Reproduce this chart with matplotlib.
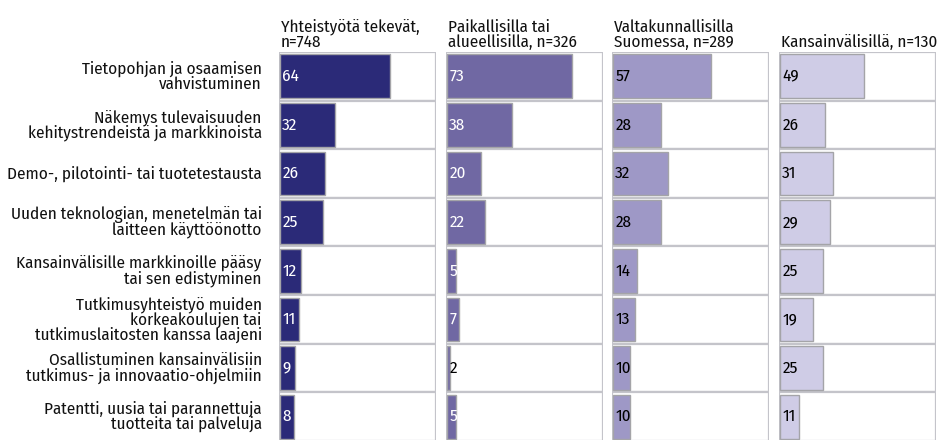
import matplotlib
matplotlib.use("Agg")
import matplotlib.pyplot as plt

plt.rcParams['font.family'] = ['Fira Sans Condensed', 'DejaVu Sans']

categories = [
    "Tietopohjan ja osaamisen\nvahvistuminen",
    "Näkemys tulevaisuuden\nkehitystrendeistä ja markkinoista",
    "Demo-, pilotointi- tai tuotetestausta",
    "Uuden teknologian, menetelmän tai\nlaitteen käyttöönotto",
    "Kansainvälisille markkinoille pääsy\ntai sen edistyminen",
    "Tutkimusyhteistyö muiden\nkorkeakoulujen tai\ntutkimuslaitosten kanssa laajeni",
    "Osallistuminen kansainvälisiin\ntutkimus- ja innovaatio-ohjelmiin",
    "Patentti, uusia tai parannettuja\ntuotteita tai palveluja",
]
titles = [
    "Yhteistyötä tekevät,\nn=748",
    "Paikallisilla tai\nalueellisilla, n=326",
    "Valtakunnallisilla\nSuomessa, n=289",
    "Kansainvälisillä, n=130",
]
yhteistyo = [64, 32, 26, 25, 12, 11, 9, 8]
paikalliset = [73, 38, 20, 22, 5, 7, 2, 5]
valtakunnalliset = [57, 28, 32, 28, 14, 13, 10, 10]
kansainvaliset = [49, 26, 31, 29, 25, 19, 25, 11]
series = [yhteistyo, paikalliset, valtakunnalliset, kansainvaliset]

colors = ['#2b2a78', '#7068a3', '#9e98c6', '#cfcce6']
text_colors = ['white', 'white', 'black', 'black']

fig = plt.figure(figsize=(9.5, 4.4), dpi=100)
W, H = 950.0, 440.0
lefts = [279, 446, 612, 779]
pw = 157
top = 52
bottom = 441
XMAX = 91.5
n = len(categories)
FS = 12.3

for p, (vals, title) in enumerate(zip(series, titles)):
    ax = fig.add_axes([lefts[p] / W, 1 - bottom / H, pw / W, (bottom - top) / H])
    ax.set_xlim(0, XMAX)
    ax.set_ylim(n - 0.5, -0.5)
    ax.axis('off')
    ys = list(range(n))
    ax.barh(ys, [XMAX] * n, height=1.0, left=0, color='white',
            edgecolor='#c4c4ca', linewidth=1.6, zorder=1)
    ax.barh(ys, vals, height=0.9, left=0.6, color=colors[p],
            edgecolor='#a4a4a8', linewidth=1.0, zorder=2)
    for y, v in zip(ys, vals):
        tc = text_colors[p] if v >= 4 else 'black'
        ax.text(1.9, y, str(v), ha='left', va='center', fontsize=FS,
                color=tc, zorder=3)
    ax.text(0.01, 1.004, title, transform=ax.transAxes, ha='left', va='bottom',
            fontsize=FS, linespacing=0.92, color='#111111')
    if p == 0:
        for y, c in zip(ys, categories):
            ax.annotate(c, xy=(0, y), xycoords='data', xytext=(-12.5, 0),
                        textcoords='offset points', ha='right', va='center',
                        fontsize=FS, linespacing=0.9, color='#111111',
                        annotation_clip=False)

fig.savefig('out.png', dpi=100)
